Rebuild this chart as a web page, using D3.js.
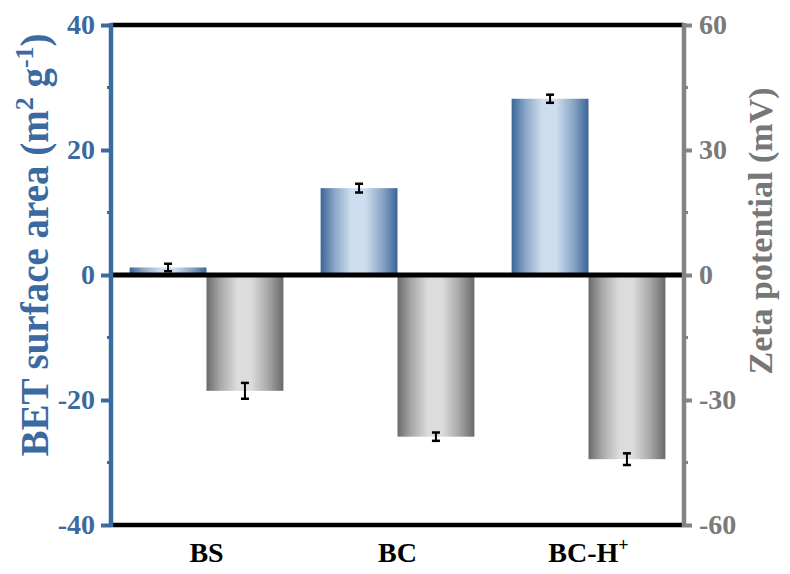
<!DOCTYPE html>
<html>
<head>
<meta charset="utf-8">
<script src="https://cdn.jsdelivr.net/npm/d3@7"></script>
<style>
  html, body { margin: 0; padding: 0; background: #fff; }
  svg { display: block; font-family: "Liberation Serif", "Times New Roman", serif; font-weight: bold; }
</style>
</head>
<body>
<svg id="chart" width="790" height="574"></svg>
<script>
// Samples
const categories = ["BS", "BC", "BC-H"];
const categorySup = ["", "", "+"];

// BET surface area (m2 g-1), left axis
const betValues = [1.2, 13.9, 28.2];
const betErrors = [0.6, 0.7, 0.65];

// Zeta potential (mV), right axis
const zetaValues = [-27.8, -38.8, -44.2];
const zetaErrors = [1.9, 1.0, 1.4];

const leftTicks = [-40, -20, 0, 20, 40];
const leftMinor = [-30, -10, 10, 30];
const rightTicks = [-60, -30, 0, 30, 60];
const rightMinor = [-45, -15, 15, 45];

const blue = "#3a6a9f";
const grey = "#848484";

const svg = d3.select("#chart");
const margin = { left: 111, right: 106, top: 25, bottom: 49 };
const W = 790, H = 574;
const x0 = margin.left, x1 = W - margin.right;
const y0 = margin.top, y1 = H - margin.bottom;

const x = d3.scaleBand().domain(categories).range([x0, x1]).paddingInner(0.195).paddingOuter(0.0975);
const yL = d3.scaleLinear().domain([-40, 40]).range([y1, y0]);
const yR = d3.scaleLinear().domain([-60, 60]).range([y1, y0]);
const half = x.bandwidth() / 2;
const fmt = d => String(d);   // plain hyphen for negatives

// Gradients: dark edges, light centre
const defs = svg.append("defs");
function grad(id, edge, mid, light) {
  const g = defs.append("linearGradient").attr("id", id)
    .attr("x1", "0%").attr("x2", "100%").attr("y1", "0%").attr("y2", "0%");
  [[0, edge], [0.18, mid], [0.4, light], [0.58, light], [0.8, mid], [1, edge]]
    .forEach(([o, c]) => g.append("stop").attr("offset", o).attr("stop-color", c));
}
grad("gBlue", "#3b6698", "#8aa6c8", "#cfdeee");
grad("gGrey", "#6a6a6a", "#a8a8a8", "#dcdcdc");

// BET bars (left of each group centre)
svg.append("g").selectAll("rect").data(categories).join("rect")
  .attr("x", d => x(d))
  .attr("width", half)
  .attr("y", (d, i) => yL(Math.max(0, betValues[i])))
  .attr("height", (d, i) => Math.abs(yL(betValues[i]) - yL(0)))
  .attr("fill", "url(#gBlue)");

// Zeta bars (right of each group centre)
svg.append("g").selectAll("rect").data(categories).join("rect")
  .attr("x", d => x(d) + half)
  .attr("width", half)
  .attr("y", (d, i) => yR(Math.max(0, zetaValues[i])))
  .attr("height", (d, i) => Math.abs(yR(zetaValues[i]) - yR(0)))
  .attr("fill", "url(#gGrey)");

// Error bars
function errorBars(vals, errs, scale, offset) {
  const g = svg.append("g").attr("stroke", "#000");
  vals.forEach((v, i) => {
    const cx = x(categories[i]) + offset;
    const ya = scale(v + errs[i]), yb = scale(v - errs[i]);
    g.append("line").attr("x1", cx).attr("x2", cx).attr("y1", ya).attr("y2", yb).attr("stroke-width", 2);
    g.append("line").attr("x1", cx - 4).attr("x2", cx + 4).attr("y1", ya).attr("y2", ya).attr("stroke-width", 2.5);
    g.append("line").attr("x1", cx - 4).attr("x2", cx + 4).attr("y1", yb).attr("y2", yb).attr("stroke-width", 2.5);
  });
}
errorBars(betValues, betErrors, yL, half / 2);
errorBars(zetaValues, zetaErrors, yR, half * 1.5);

// Frame: top, bottom and zero lines
svg.append("line").attr("x1", x0).attr("x2", x1).attr("y1", y0).attr("y2", y0)
  .attr("stroke", "#000").attr("stroke-width", 4.5);
svg.append("line").attr("x1", x0).attr("x2", x1).attr("y1", y1).attr("y2", y1)
  .attr("stroke", "#000").attr("stroke-width", 4.5);
svg.append("line").attr("x1", x0).attr("x2", x1).attr("y1", yL(0)).attr("y2", yL(0))
  .attr("stroke", "#000").attr("stroke-width", 5);

// Left axis
const axL = svg.append("g").attr("transform", `translate(${x0},0)`)
  .call(d3.axisLeft(yL).tickValues(leftTicks).tickSize(10).tickPadding(6).tickFormat(fmt));
axL.select(".domain").remove();
axL.selectAll(".tick line").attr("stroke", blue).attr("stroke-width", 4);
axL.selectAll(".tick text").attr("fill", blue).attr("font-size", 28)
  .attr("font-family", "Liberation Serif").attr("font-weight", "bold");
svg.append("g").selectAll("line").data(leftMinor).join("line")
  .attr("x1", x0 - 4).attr("x2", x0).attr("y1", d => yL(d)).attr("y2", d => yL(d))
  .attr("stroke", blue).attr("stroke-width", 3);
svg.append("line").attr("x1", x0).attr("x2", x0).attr("y1", y0 - 2).attr("y2", y1 + 2)
  .attr("stroke", blue).attr("stroke-width", 4.5);

// Right axis
const axR = svg.append("g").attr("transform", `translate(${x1},0)`)
  .call(d3.axisRight(yR).tickValues(rightTicks).tickSize(8).tickPadding(7).tickFormat(fmt));
axR.select(".domain").remove();
axR.selectAll(".tick line").attr("stroke", grey).attr("stroke-width", 4);
axR.selectAll(".tick text").attr("fill", "#7a7a7a").attr("font-size", 28)
  .attr("font-family", "Liberation Serif").attr("font-weight", "bold");
svg.append("g").selectAll("line").data(rightMinor).join("line")
  .attr("x1", x1).attr("x2", x1 + 4).attr("y1", d => yR(d)).attr("y2", d => yR(d))
  .attr("stroke", grey).attr("stroke-width", 3);
svg.append("line").attr("x1", x1).attr("x2", x1).attr("y1", y0 - 2).attr("y2", y1 + 2)
  .attr("stroke", grey).attr("stroke-width", 4.5);

// Category labels
const xl = svg.append("g").selectAll("text").data(categories).join("text")
  .attr("x", d => x(d) + half)
  .attr("y", 562)
  .attr("text-anchor", "middle")
  .attr("font-size", 28)
  .attr("fill", "#000");
xl.append("tspan").text(d => d);
xl.append("tspan").text((d, i) => categorySup[i]).attr("font-size", 18).attr("dy", -11);

// Axis titles
const tL = svg.append("text")
  .attr("transform", `translate(48,245) rotate(-90)`)
  .attr("text-anchor", "middle").attr("font-size", 39).attr("fill", blue);
tL.append("tspan").text("BET surface area (m");
tL.append("tspan").text("2").attr("font-size", 26).attr("dy", -15);
tL.append("tspan").text(" g").attr("dy", 15);
tL.append("tspan").text("-1").attr("font-size", 26).attr("dy", -15);
tL.append("tspan").text(")").attr("dy", 15);

svg.append("text")
  .attr("transform", `translate(772,231) rotate(-90)`)
  .attr("text-anchor", "middle").attr("font-size", 34).attr("fill", "#777")
  .text("Zeta potential (mV)");
</script>
</body>
</html>
